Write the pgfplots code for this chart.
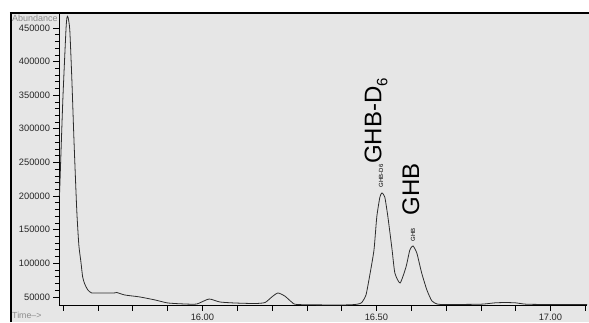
\documentclass[border=0pt]{standalone}
\usepackage{pgfplots}
\pgfplotsset{compat=1.18}
\usepackage{fontspec}
\setmainfont{Liberation Sans}
\definecolor{bg}{RGB}{230,230,230}
\definecolor{curve}{RGB}{45,45,45}
\pgfplotstableread{
t v
15.589 201500
15.590 209000
15.599 342900
15.608 447000
15.611 466000
15.614 466000
15.619 447000
15.625 372600
15.631 283300
15.639 179200
15.645 127100
15.651 101800
15.656 79500
15.662 69000
15.671 60100
15.682 55700
15.705 55700
15.746 55700
15.754 56400
15.777 52700
15.820 49800
15.864 45300
15.901 40800
15.950 39300
15.984 39300
16.019 46700
16.050 42300
16.093 40800
16.151 40000
16.180 41500
16.200 50000
16.217 55700
16.237 51000
16.257 42000
16.273 38500
16.395 37800
16.438 38500
16.453 40000
16.458 41500
16.470 52700
16.481 82500
16.493 119700
16.501 168800
16.510 198500
16.516 204500
16.524 198500
16.533 168800
16.545 119700
16.553 85400
16.568 70600
16.585 94400
16.596 119700
16.605 125600
16.616 115200
16.630 85400
16.645 60100
16.659 44100
16.674 39300
16.697 38500
16.800 39000
16.840 41000
16.870 41500
16.900 41000
16.930 39000
17.000 38500
17.105 38500
}\chrom
\begin{document}
\begin{tikzpicture}
\fill[white] (-59pt,-17pt) rectangle (530pt,305pt);
\fill[bg] (-48pt,-17pt) rectangle (530pt,292pt);
\draw[black,line width=2.5pt] (-48pt,-17pt) -- (-48pt,292pt);
\draw[black,line width=1.8pt] (-49pt,291.6pt) -- (530pt,291.6pt);
\begin{axis}[
  at={(0pt,0pt)}, anchor=south west,
  scale only axis, width=528pt, height=291pt,
  xmin=15.588, xmax=17.105, ymin=37800, ymax=470800,
  axis x line*=bottom, axis y line*=left,
  axis line style={-, black, line width=0.8pt},
  tick align=outside,
  xtick={15.6,15.7,15.8,15.9,16.0,16.1,16.2,16.3,16.4,16.5,16.6,16.7,16.8,16.9,17.0,17.1},
  xticklabels={,,,,16.00,,,,,16.50,,,,,17.00,},
  ytick={50000,100000,150000,200000,250000,300000,350000,400000,450000},
  minor y tick num=4,
  major tick length=5.5pt, minor tick length=4pt,
  tick style={black, line width=0.6pt},
  scaled y ticks=false,
  /pgf/number format/assume math mode=true,
  yticklabel style={/pgf/number format/fixed, /pgf/number format/1000 sep={}, font=\fontsize{9.3}{10}\selectfont, text=black!85},
  xticklabel style={font=\fontsize{9.3}{10}\selectfont, text=black!85},
  clip=true,
]
\addplot[curve, line width=0.8pt, smooth, tension=0.35] table[x=t,y=v] {\chrom};
\node[rotate=90, font=\fontsize{24}{24}\selectfont] at (axis cs:16.499,311600) {GHB-D\raisebox{-0.25em}{\fontsize{15}{15}\selectfont 6}};
\node[rotate=90, font=\fontsize{24}{24}\selectfont] at (axis cs:16.599,210400) {GHB};
\node[rotate=90, font=\fontsize{6}{6}\selectfont] at (axis cs:16.513,229800) {GHB-D6};
\node[rotate=90, font=\fontsize{6}{6}\selectfont] at (axis cs:16.605,142000) {GHB};
\end{axis}
\node[anchor=west, text=black!45, font=\fontsize{9}{9}\selectfont, inner sep=0pt] at (-47pt,287pt) {Abundance};
\node[anchor=west, text=black!45, font=\fontsize{8.8}{9}\selectfont, inner sep=0pt] at (-47pt,-10pt) {Time-->};
\pgfresetboundingbox
\useasboundingbox (-59pt,-17pt) rectangle (530pt,305pt);
\end{tikzpicture}
\end{document}
